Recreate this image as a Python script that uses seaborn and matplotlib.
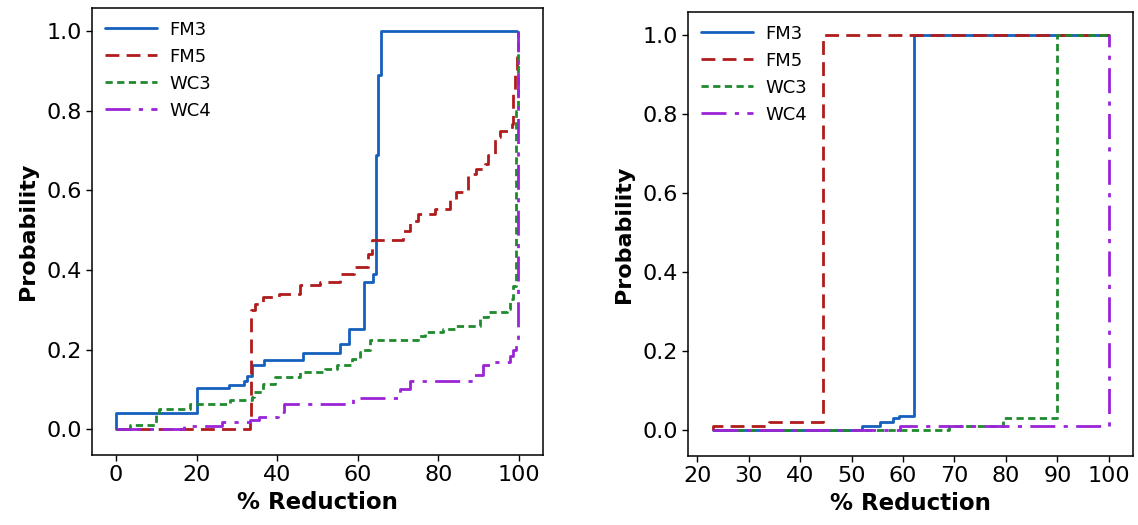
import matplotlib
matplotlib.use("Agg")
import matplotlib.pyplot as plt
import seaborn as sns

# ---------------- data (step functions, steps-post) ----------------
series_names = ["FM3", "FM5", "WC3", "WC4"]

# left panel
left_fm3_x = [0, 0, 20, 28, 31.8, 32.5, 33.7, 36.8, 46.5, 55.5, 57.8, 61.6, 63.7, 64.5, 65.1, 65.7, 99.5]
left_fm3_y = [0, 0.04, 0.104, 0.11, 0.122, 0.133, 0.162, 0.173, 0.191, 0.213, 0.252, 0.369, 0.39, 0.688, 0.89, 1.0, 1.0]

left_fm5_x = [0, 33.3, 33.6, 34.5, 36.6, 40.5, 45.7, 50.7, 55.6, 59, 62.6, 63.5, 71.3, 73, 75, 79.2,
              82.9, 84.5, 87.4, 89.5, 91.6, 92.4, 94, 95.3, 98.2, 98.6, 99, 99.5, 99.8]
left_fm5_y = [0, 0.02, 0.30, 0.315, 0.333, 0.34, 0.361, 0.369, 0.39, 0.407, 0.44, 0.474, 0.499, 0.524, 0.541, 0.554,
              0.575, 0.595, 0.642, 0.654, 0.667, 0.688, 0.734, 0.75, 0.767, 0.843, 0.9, 0.95, 0.97]

left_wc3_x = [0, 3.5, 9.8, 10.6, 18.4, 28.3, 33.7, 34.2, 36.6, 39.5, 45.7, 51.9, 54.8, 58.5, 60.6, 61.4, 63,
              75, 76.7, 81.2, 84.1, 90.3, 92.4, 97, 97.8, 98.6, 99.4, 99.8]
left_wc3_y = [0, 0.01, 0.038, 0.05, 0.064, 0.072, 0.08, 0.093, 0.114, 0.13, 0.143, 0.152, 0.162, 0.177, 0.193, 0.2, 0.224,
              0.235, 0.244, 0.252, 0.26, 0.281, 0.294, 0.302, 0.327, 0.36, 0.8, 1.0]

left_wc4_x = [0, 16.8, 26.3, 33.3, 35.4, 40.3, 41.6, 58.9, 70.5, 73, 88.7, 91.2, 92.8, 97.8, 98.6, 99.4, 99.8]
left_wc4_y = [0, 0.009, 0.018, 0.022, 0.03, 0.043, 0.062, 0.079, 0.101, 0.122, 0.135, 0.16, 0.168, 0.185, 0.198, 0.223, 1.0]

# right panel
right_fm3_x = [23, 52.1, 55.5, 58.1, 59.2, 62.1, 100]
right_fm3_y = [0, 0.01, 0.02, 0.03, 0.037, 1.0, 1.0]

right_fm5_x = [23, 23, 34, 44.5, 100]
right_fm5_y = [0, 0.01, 0.02, 1.0, 1.0]

right_wc3_x = [23, 69, 79.5, 89.9, 100]
right_wc3_y = [0, 0.01, 0.03, 1.0, 1.0]

right_wc4_x = [23, 59.5, 100]
right_wc4_y = [0, 0.01, 1.0]

left_xticks = [0, 20, 40, 60, 80, 100]
right_xticks = [20, 30, 40, 50, 60, 70, 80, 90, 100]
yticks = [0.0, 0.2, 0.4, 0.6, 0.8, 1.0]

# ---------------- styles ----------------
colors = {"FM3": "#1560bd", "FM5": "#b01c1c", "WC3": "#1f8a2e", "WC4": "#9a24d6"}
styles = {"FM3": "-", "FM5": (0, (5, 2.6)), "WC3": (0, (2.6, 1.6)), "WC4": (0, (9, 3, 1.5, 3))}

sns.set_style("ticks")
plt.rcParams["font.family"] = ["DejaVu Sans"]
plt.rcParams["text.color"] = "black"
plt.rcParams["axes.labelcolor"] = "black"
plt.rcParams["xtick.color"] = "black"
plt.rcParams["ytick.color"] = "black"

fig = plt.figure(figsize=(11.38, 5.25), dpi=100)
ax1 = fig.add_axes([0.0808, 0.1333, 0.3963, 0.8514])
ax2 = fig.add_axes([0.6046, 0.1314, 0.3910, 0.8457])

left_data = {"FM3": (left_fm3_x, left_fm3_y), "FM5": (left_fm5_x, left_fm5_y),
             "WC3": (left_wc3_x, left_wc3_y), "WC4": (left_wc4_x, left_wc4_y)}
right_data = {"FM3": (right_fm3_x, right_fm3_y), "FM5": (right_fm5_x, right_fm5_y),
              "WC3": (right_wc3_x, right_wc3_y), "WC4": (right_wc4_x, right_wc4_y)}

for ax, data, xticks, xlim in [(ax1, left_data, left_xticks, (-6, 106)),
                               (ax2, right_data, right_xticks, (18.2, 104.7))]:
    for name in series_names:
        xs, ys = data[name]
        sns.lineplot(x=xs, y=ys, ax=ax, color=colors[name], linestyle=styles[name],
                     linewidth=2.0, drawstyle="steps-post", sort=False, estimator=None,
                     label=name)
    ax.set_xlim(*xlim)
    ax.set_ylim(-0.065, 1.058)
    ax.set_xticks(xticks)
    ax.set_yticks(yticks)
    ax.set_yticklabels([f"{v:.1f}" for v in yticks])
    ax.tick_params(axis="both", labelsize=16, length=4, width=1, color="black",
                   labelcolor="black")
    for sp in ax.spines.values():
        sp.set_color("black")
        sp.set_linewidth(1.1)
    ax.set_xlabel("% Reduction", fontsize=16.5, fontweight="bold", labelpad=4, color="black")
    ax.set_ylabel("Probability", fontsize=16, fontweight="bold", labelpad=6, color="black")
    leg = ax.legend(loc="upper left", frameon=False, fontsize=13, handlelength=2.9,
                    handletextpad=0.7, labelspacing=0.5, borderaxespad=0.3)
    for t in leg.get_texts():
        t.set_color("black")

fig.savefig("out.png", dpi=100)
